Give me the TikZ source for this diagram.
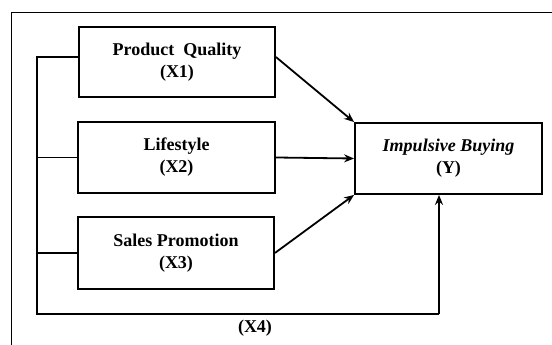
\documentclass[tikz,border=0pt]{standalone}
\usepackage{fontspec}
\setmainfont{Liberation Serif}
\usetikzlibrary{arrows.meta, calc}

\begin{document}
\begin{tikzpicture}[x=1pt, y=1pt, >={Stealth[length=10pt, width=8pt]},
  varbox/.style={draw, line width=1.8pt, align=center, inner sep=0pt, font=\fontsize{18}{22}\selectfont\bfseries},
  link/.style={line width=1.8pt}]

  \useasboundingbox (0,0) rectangle (552,345);

  % Frame (only top and left edges show)
  \draw[line width=1pt] (11,0) -- (11,332) -- (552,332);

  % Variables
  \node[varbox, minimum width=196, minimum height=70] (x1) at (177,283) {Product\ \ Quality\\(X1)};
  \node[varbox, minimum width=197, minimum height=71] (x2) at (176.5,187.5) {Lifestyle\\(X2)};
  \node[varbox, minimum width=196, minimum height=72] (x3) at (176,92) {Sales Promotion\\(X3)};
  \node[varbox, minimum width=187, minimum height=71] (y) at (448.5,186.5) {\textit{Impulsive Buying}\\(Y)};

  % Joint path (X4)
  \coordinate (busTop) at (37,288);
  \coordinate (busBot) at (37,31);
  \coordinate (busEnd) at (439,31);
  \draw[link] ($(x1.west)+(0,5)$) -- (busTop) -- (busBot) -- (busEnd);
  \draw[link] (x2.west) -- (x2.west -| busTop);
  \draw[link] (x3.west) -- (x3.west -| busTop);
  \draw[link, ->] (busEnd) -- (busEnd |- y.south);
  \node[font=\fontsize{18}{22}\selectfont\bfseries] (x4) at (255,17) {(X4)};

  % Partial paths
  \draw[link, ->] ($(x1.east)+(0,5)$) -- (y.north west);
  \draw[link, ->] (x2.east) -- (y.west);
  \draw[link, ->] (x3.east) -- (y.south west);

\end{tikzpicture}
\end{document}
